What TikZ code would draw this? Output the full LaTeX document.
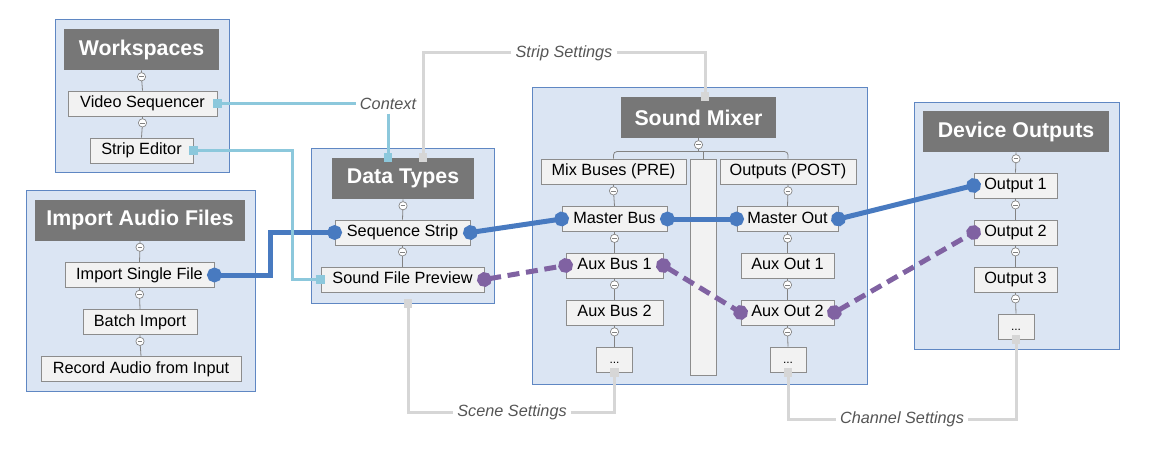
\documentclass[tikz,border=0pt]{standalone}
\usepackage{fontspec}
\setmainfont{Liberation Sans}
\usepackage{xcolor}
\usetikzlibrary{arrows.meta,calc}

\definecolor{grpFill}{RGB}{219,229,243}
\definecolor{grpLine}{RGB}{95,135,195}
\definecolor{ttlFill}{RGB}{119,119,119}
\definecolor{itmFill}{RGB}{242,242,242}
\definecolor{itmLine}{RGB}{140,140,140}
\definecolor{treeGray}{RGB}{130,130,130}
\definecolor{busBlue}{RGB}{72,122,192}
\definecolor{auxPurple}{RGB}{128,98,162}
\definecolor{ctxBlue}{RGB}{140,200,220}
\definecolor{setGray}{RGB}{214,214,214}
\definecolor{lblGray}{RGB}{85,85,85}

\tikzset{
  sq/.tip={Square[length=6.5pt,width=6.5pt]},
  dot/.tip={Circle[length=11pt]},
  boxw/.style={minimum width=#1*0.75pt},
  boxh/.style={minimum height=#1*0.75pt}
}

\begin{document}
\begin{tikzpicture}[x=0.75pt,y=0.75pt,yscale=-1,xscale=1,
  grp/.style={draw=grpLine, fill=grpFill, line width=0.75pt, inner sep=0pt},
  ttl/.style={fill=ttlFill, text=white, font=\fontsize{16}{19}\selectfont\bfseries, boxh=41, inner sep=0pt},
  itm/.style={draw=itmLine, fill=itmFill, line width=0.6pt, font=\fontsize{12.2}{14}\selectfont, text height=8.6pt, text depth=2.4pt, boxh=25, inner sep=2pt},
  more/.style={itm, boxw=36, font=\fontsize{9}{10}\selectfont},
  lbl/.style={font=\fontsize{12.2}{14}\selectfont\itshape, text=lblGray, inner sep=3pt},
  tree/.style={draw=treeGray, line width=0.6pt},
  minus/.style={circle, draw=treeGray, fill=white, line width=0.5pt, minimum size=6.2pt, inner sep=0pt,
    path picture={\draw[treeGray, line width=0.45pt] ($(path picture bounding box.center)+(-2.3,0)$) -- ($(path picture bounding box.center)+(2.3,0)$);}},
  busline/.style={draw=busBlue, line width=3.75pt, dot-dot, shorten <=-5.5pt, shorten >=-5.5pt},
  auxline/.style={busline, draw=auxPurple, dash pattern=on 9pt off 5pt},
  ctxline/.style={draw=ctxBlue, line width=2.25pt},
  setline/.style={draw=setGray, line width=2.25pt},
  sqstart/.style={sq-, shorten <=-3.25pt},
  sqend/.style={-sq, shorten >=-3.25pt},
  sqboth/.style={sq-sq, shorten <=-3.25pt, shorten >=-3.25pt}]
	%set diagram size to the full 1149 x 449 frame
	\path[use as bounding box] (0,0) rectangle (1149,449);

	%Shape: Rectangle -- group boxes
	\node[grp, boxw=174, boxh=153] (wsGrp) at (142,96.5) {};
	\node[grp, boxw=229, boxh=200] (impGrp) at (140.5,291) {};
	\node[grp, boxw=183, boxh=154] (dtGrp) at (402.5,226) {};
	\node[grp, boxw=335, boxh=296] (smGrp) at (699.5,236) {};
	\node[grp, boxw=205, boxh=246] (devGrp) at (1016.5,226) {};

	% Title Nodes
	\node[ttl, boxw=155] (wsTitle) at (141.5,49.5) {Workspaces};
	\node[ttl, boxw=210] (impTitle) at (140,220) {Import Audio Files};
	\node[ttl, boxw=142] (dtTitle) at (403,178.5) {Data Types};
	\node[ttl, boxw=155] (smTitle) at (698.5,117.5) {Sound Mixer};
	\node[ttl, boxw=186] (devTitle) at (1016,131.5) {Device Outputs};

	% Item Nodes
	\node[itm, boxw=149] (vidSeq) at (142.5,103.5) {Video Sequencer};
	\node[itm, boxw=103] (stripEd) at (141.5,150.5) {Strip Editor};
	\node[itm, boxw=149] (impSingle) at (139.5,275) {Import Single File};
	\node[itm, boxw=114] (batchImp) at (140,322) {Batch Import};
	\node[itm, boxw=200] (recAudio) at (141,369) {Record Audio from Input};
	\node[itm, boxw=135] (seqStrip) at (402.5,232.5) {Sequence Strip};
	\node[itm, boxw=163] (sndPrev) at (402.5,279.5) {Sound File Preview};
	\node[itm, boxw=145] (mixBuses) at (613.5,171.5) {Mix Buses (PRE)};
	\node[itm, boxw=26, boxh=216] (midCol) at (703,267) {};
	\node[itm, boxw=136] (outPost) at (788,171.5) {Outputs (POST)};
	\node[itm, boxw=105] (masterBus) at (614.5,219) {Master Bus};
	\node[itm, boxw=97] (auxBus1) at (614.5,265.5) {Aux Bus 1};
	\node[itm, boxw=97] (auxBus2) at (614.5,312.5) {Aux Bus 2};
	\node[more] (mixMore) at (614.5,359.5) {...};
	\node[itm, boxw=101] (masterOut) at (787.5,219) {Master Out};
	\node[itm, boxw=93] (auxOut1) at (787.5,265.5) {Aux Out 1};
	\node[itm, boxw=93] (auxOut2) at (787.5,312.5) {Aux Out 2};
	\node[more] (outMore) at (788,359.5) {...};
	\node[itm, boxw=83] (devOut1) at (1015.5,185.5) {Output 1};
	\node[itm, boxw=83] (devOut2) at (1015.5,232.5) {Output 2};
	\node[itm, boxw=83] (devOut3) at (1015.5,279.5) {Output 3};
	\node[more] (devMore) at (1016,326.5) {...};

	% Text Node -- connector labels
	\node[lbl] (ctxLbl) at (388,103.5) {Context};
	\node[lbl] (stripLbl) at (564,53) {Strip Settings};
	\node[lbl] (sceneLbl) at (512,412) {Scene Settings};
	\node[lbl] (chanLbl) at (902,419) {Channel Settings};

	%Straight Lines -- tree links with collapse buttons
	\draw[tree] (wsTitle.south) -- ++(0,6.5) node[minus] (mnWs1) {} -- (vidSeq.north);
	\draw[tree] (vidSeq.south) -- ++(0,6.5) node[minus] (mnWs2) {} -- (stripEd.north);
	\draw[tree] (impTitle.south) -- ++(0,6.5) node[minus] (mnImp1) {} -- (impSingle.north);
	\draw[tree] (impSingle.south) -- ++(0,6.5) node[minus] (mnImp2) {} -- (batchImp.north);
	\draw[tree] (batchImp.south) -- ++(0,6.5) node[minus] (mnImp3) {} -- (recAudio.north);
	\draw[tree] (dtTitle.south) -- ++(0,6.5) node[minus] (mnDt1) {} -- (seqStrip.north);
	\draw[tree] (seqStrip.south) -- ++(0,6.5) node[minus] (mnDt2) {} -- (sndPrev.north);
	\draw[tree] (smTitle.south) -- ++(0,6.5) node[minus] (mnSm) {} -- ++(0,7.5);
	\draw[tree, rounded corners=2.5pt] (mixBuses.north) -- ++(0,-7) -| (outPost.north);
	\draw[tree] (midCol.north) -- ++(0,-7);
	\draw[tree] (mixBuses.south) -- ++(0,6.5) node[minus] (mnMix1) {} -- (masterBus.north);
	\draw[tree] (masterBus.south) -- ++(0,6.5) node[minus] (mnMix2) {} -- (auxBus1.north);
	\draw[tree] (auxBus1.south) -- ++(0,6.5) node[minus] (mnMix3) {} -- (auxBus2.north);
	\draw[tree] (auxBus2.south) -- ++(0,6.5) node[minus] (mnMix4) {} -- (mixMore.north);
	\draw[tree] (outPost.south) -- ++(0,6.5) node[minus] (mnOut1) {} -- (masterOut.north);
	\draw[tree] (masterOut.south) -- ++(0,6.5) node[minus] (mnOut2) {} -- (auxOut1.north);
	\draw[tree] (auxOut1.south) -- ++(0,6.5) node[minus] (mnOut3) {} -- (auxOut2.north);
	\draw[tree] (auxOut2.south) -- ++(0,6.5) node[minus] (mnOut4) {} -- (outMore.north);
	\draw[tree] (devTitle.south) -- ++(0,6.5) node[minus] (mnDev1) {} -- (devOut1.north);
	\draw[tree] (devOut1.south) -- ++(0,6.5) node[minus] (mnDev2) {} -- (devOut2.north);
	\draw[tree] (devOut2.south) -- ++(0,6.5) node[minus] (mnDev3) {} -- (devOut3.north);
	\draw[tree] (devOut3.south) -- ++(0,6.5) node[minus] (mnDev4) {} -- (devMore.north);

	%Straight Lines -- settings links
	\draw[setline, sqend] (stripLbl.west) -| ($(dtTitle.north)+(20,0)$);
	\draw[setline, sqend] (stripLbl.east) -| ($(smTitle.north)+(6.5,0)$);
	\draw[setline, sqstart] ($(dtGrp.south)+(5.5,0)$) |- (sceneLbl.west);
	\draw[setline, sqend] (sceneLbl.east) -| (mixMore.south);
	\draw[setline, sqstart] (outMore.south) |- (chanLbl.west);
	\draw[setline, sqend] (chanLbl.east) -| (devMore.south);

	%Straight Lines -- master signal
	\draw[busline] (impSingle.east) -- ++(56,0) |- (seqStrip.west);
	\draw[busline] (seqStrip.east) -- (masterBus.west);
	\draw[busline] (masterBus.east) -- (masterOut.west);
	\draw[busline] (masterOut.east) -- (devOut1.west);

	%Straight Lines -- aux signal
	\draw[auxline] (sndPrev.east) -- (auxBus1.west);
	\draw[auxline] (auxBus1.east) -- (auxOut2.west);
	\draw[auxline] (auxOut2.east) -- (devOut2.west);

	%Straight Lines -- context links
	\draw[ctxline, sqstart] (vidSeq.east) -- (ctxLbl.west);
	\draw[ctxline, sqend] (ctxLbl.south) -- (ctxLbl.south |- dtTitle.north);
	\draw[ctxline, sqboth] (stripEd.east) -- ++(99,0) |- (sndPrev.west);

\end{tikzpicture}
\end{document}
